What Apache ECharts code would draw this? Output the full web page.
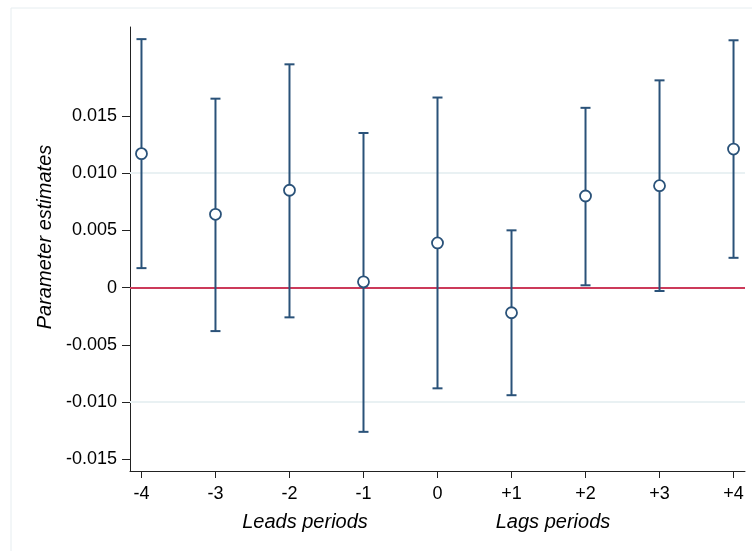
<!DOCTYPE html>
<html>
<head>
<meta charset="utf-8">
<script src="https://cdn.jsdelivr.net/npm/echarts@6/dist/echarts.min.js"></script>
<style>
html,body{margin:0;padding:0;background:#fff;}
#c{width:752px;height:551px;}
</style>
</head>
<body>
<div id="c"></div>
<script>
// ---- data ----
var periods = [-4, -3, -2, -1, 0, 1, 2, 3, 4];
var estimates = [0.0117, 0.0064, 0.0085, 0.0005, 0.0039, -0.0022, 0.0080, 0.0089, 0.0121];
var lowerCI = [0.0017, -0.0038, -0.0026, -0.0126, -0.0088, -0.0094, 0.0002, -0.0003, 0.0026];
var upperCI = [0.0217, 0.0165, 0.0195, 0.0135, 0.0166, 0.0050, 0.0157, 0.0181, 0.0216];
var yTickValues = [-0.015, -0.010, -0.005, 0, 0.005, 0.010, 0.015];
var xTickValues = [-4, -3, -2, -1, 0, 1, 2, 3, 4];
var xTitles = ['Leads periods', 'Lags periods'];
var yTitle = 'Parameter estimates';

var NAVY = '#2a5279';
var RED = '#cc3a5a';
var GRID = '#e9f1f3';
var FONT = 'Liberation Sans, Arial, Helvetica, sans-serif';

var ciData = periods.map(function (p, i) { return [p, lowerCI[i], upperCI[i]]; });
var ptData = periods.map(function (p, i) { return [p, estimates[i]]; });

var chart = echarts.init(document.getElementById('c'));
chart.setOption({
  animation: false,
  backgroundColor: '#ffffff',
  grid: { left: 130, right: 7, top: 27, bottom: 80, containLabel: false },
  xAxis: {
    type: 'value',
    min: -4.155, max: 4.155,
    axisLine: { show: true, onZero: false, lineStyle: { color: '#222', width: 1 } },
    axisTick: { show: true, length: 7, lineStyle: { color: '#222' }, customValues: xTickValues },
    axisLabel: {
      customValues: xTickValues, margin: 14, color: '#000', fontSize: 18, fontFamily: FONT,
      formatter: function (v) { return v > 0 ? '+' + v : String(v); }
    },
    splitLine: { show: false }
  },
  yAxis: {
    type: 'value',
    min: -0.01602, max: 0.02276,
    axisLine: { show: true, onZero: false, lineStyle: { color: '#222', width: 1 } },
    axisTick: { show: true, length: 8, lineStyle: { color: '#222' }, customValues: yTickValues },
    axisLabel: {
      customValues: yTickValues, margin: 13, color: '#000', fontSize: 18, fontFamily: FONT,
      formatter: function (v) { return Math.abs(v) < 1e-9 ? '0' : v.toFixed(3); }
    },
    splitLine: { show: false }
  },
  graphic: [
    { type: 'rect', silent: true, z: -10, shape: { x: 11, y: 8, width: 900, height: 700 },
      style: { fill: 'none', stroke: '#e6edf0', lineWidth: 1 } },
    { type: 'text', x: 305, y: 522, style: { text: xTitles[0], font: 'italic 20px ' + FONT, fill: '#000', textAlign: 'center', textVerticalAlign: 'middle' } },
    { type: 'text', x: 553, y: 522, style: { text: xTitles[1], font: 'italic 20px ' + FONT, fill: '#000', textAlign: 'center', textVerticalAlign: 'middle' } },
    { type: 'text', x: 45, y: 237, rotation: Math.PI / 2, style: { text: yTitle, font: 'italic 20px ' + FONT, fill: '#000', textAlign: 'center', textVerticalAlign: 'middle' } }
  ],
  series: [
    {
      type: 'line', data: [], z: 1, silent: true,
      markLine: {
        silent: true, symbol: 'none', animation: false, label: { show: false },
        lineStyle: { color: GRID, width: 1.5, type: 'solid' },
        data: yTickValues.filter(function (v) { return v !== 0; }).map(function (v) { return { yAxis: v }; })
      }
    },
    {
      type: 'line', data: [], z: 2, silent: true,
      markLine: {
        silent: true, symbol: 'none', animation: false, label: { show: false },
        lineStyle: { color: RED, width: 2, type: 'solid' },
        data: [{ yAxis: 0 }]
      }
    },
    {
      type: 'custom', z: 5, silent: true,
      data: ciData,
      encode: { x: 0, y: [1, 2] },
      renderItem: function (params, api) {
        var x = api.value(0);
        var lo = api.coord([x, api.value(1)]);
        var hi = api.coord([x, api.value(2)]);
        var hw = 5;
        var st = { stroke: NAVY, lineWidth: 2 };
        return {
          type: 'group',
          children: [
            { type: 'line', shape: { x1: lo[0], y1: lo[1], x2: hi[0], y2: hi[1] }, style: st },
            { type: 'line', shape: { x1: lo[0] - hw, y1: lo[1], x2: lo[0] + hw, y2: lo[1] }, style: st },
            { type: 'line', shape: { x1: hi[0] - hw, y1: hi[1], x2: hi[0] + hw, y2: hi[1] }, style: st }
          ]
        };
      }
    },
    {
      type: 'scatter', z: 6, silent: true,
      data: ptData,
      symbol: 'circle', symbolSize: 11,
      itemStyle: { color: '#ffffff', borderColor: NAVY, borderWidth: 1.8, opacity: 1 }
    }
  ]
});
</script>
</body>
</html>
